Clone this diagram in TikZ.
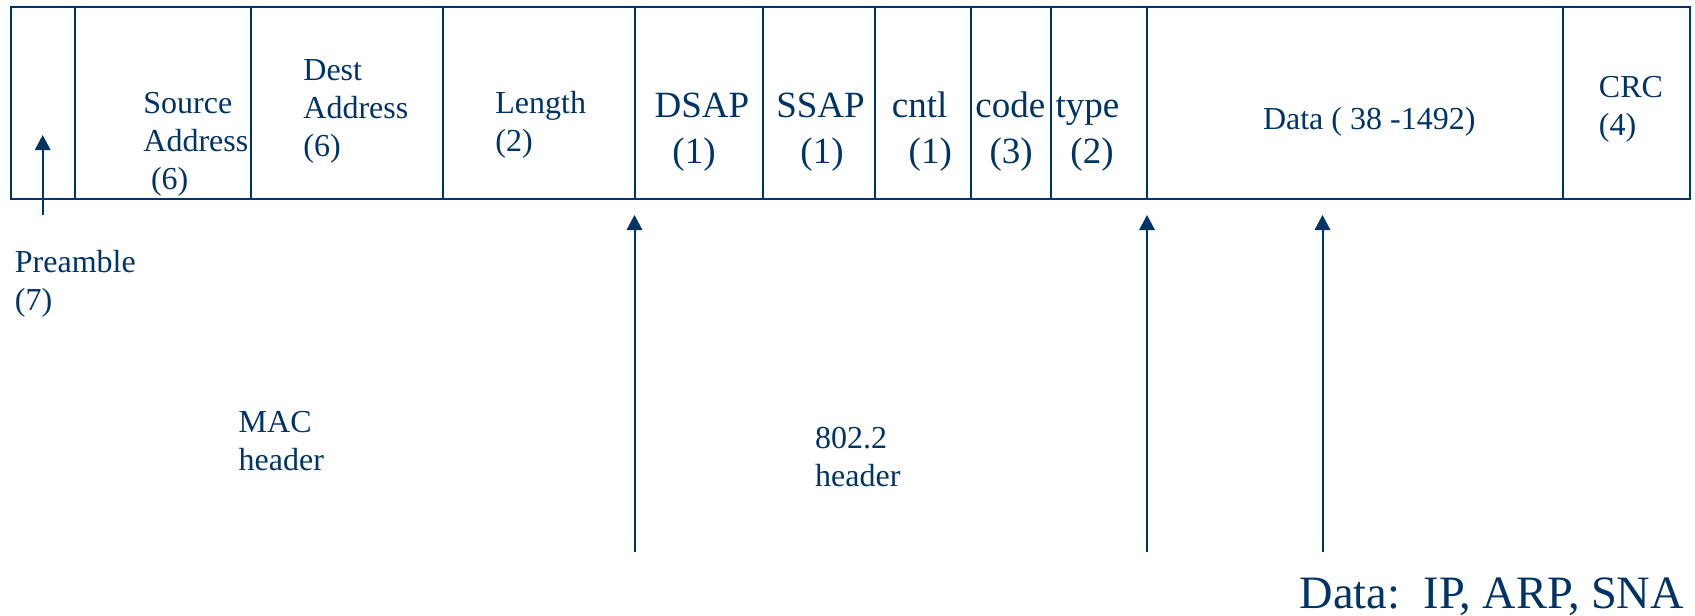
\documentclass[tikz,border=0pt]{standalone}
\usepackage{fontspec}
\setmainfont{Liberation Serif}
\usetikzlibrary{arrows.meta}
\definecolor{navy}{RGB}{0,51,102}
\tikzset{
  field/.style={draw=navy, line width=1pt, inner sep=0pt, minimum height=95.75pt},
  small/.style={text=navy, inner sep=0pt, align=left, anchor=base west,
    font=\fontsize{16pt}{19pt}\selectfont},
  big/.style={text=navy, inner sep=0pt, anchor=base,
    font=\fontsize{18.5pt}{23pt}\selectfont},
  huge/.style={text=navy, inner sep=0pt, anchor=base east,
    font=\fontsize{23.2pt}{27pt}\selectfont},
  ptr/.style={draw=navy, line width=1pt, -{Triangle[width=7.7pt,length=7.5pt]}},
}
\begin{document}
\begin{tikzpicture}[x=0.5pt,y=-0.5pt]
\useasboundingbox (0,0) rectangle (1695,615);
% frame fields
\node[field, minimum width=31.9pt]  (pre)  at (42.7,103.25) {};
\node[field, minimum width=88.15pt] (src)  at (162.75,103.25) {};
\node[field, minimum width=96.1pt]  (dst)  at (347,103.25) {};
\node[field, minimum width=95.7pt]  (len)  at (538.8,103.25) {};
\node[field, minimum width=64.25pt] (dsap) at (698.75,103.25) {};
\node[field, minimum width=55.75pt] (ssap) at (818.75,103.25) {};
\node[field, minimum width=48.05pt] (cntl) at (922.55,103.25) {};
\node[field, minimum width=40.05pt] (code) at (1010.65,103.25) {};
\node[field, minimum width=48.15pt] (type) at (1098.85,103.25) {};
\node[field, minimum width=207.9pt] (data) at (1354.9,103.25) {};
\node[field, minimum width=63.6pt]  (crc)  at (1626.4,103.25) {};
% field labels (multi-line nodes: base = last line)
\node[small] (tsrc) at (143,189.3) {Source\\Address\\\hspace*{3.8pt}(6)};
\node[small] (tdst) at (303,156.7) {Dest\\Address\\(6)};
\node[small] (tlen) at (495,151.7) {Length\\(2)};
\node[big] (tdsap1) at (702,117.3) {DSAP};
\node[big] (tdsap2) at (694,163.3) {(1)};
\node[big] (tssap1) at (820.5,117.3) {SSAP};
\node[big] (tssap2) at (822,163.3) {(1)};
\node[big] (tcntl1) at (919.7,117.3) {cntl};
\node[big] (tcntl2) at (930.3,163.3) {(1)};
\node[big] (tcode1) at (1010.4,117.3) {code};
\node[big] (tcode2) at (1011.1,163.3) {(3)};
\node[big] (ttype1) at (1087.5,117.3) {type};
\node[big] (ttype2) at (1092,163.3) {(2)};
\node[small] (tdata) at (1262.6,129) {Data ( 38 -1492)};
\node[small] (tcrc) at (1598.5,135) {CRC\\(4)};
% lower labels
\node[small] (tpre) at (14.5,310) {Preamble\\(7)};
\node[small] (tmac) at (238.3,470.7) {MAC\\header};
\node[small] (tllc) at (814.8,486) {802.2\\header};
\node[huge] (tpay) at (1684.4,608.3) {Data:\ \ IP, ARP, SNA};
% arrows
\coordinate (p0) at (42.7,215);
\coordinate (p1) at (42.7,135);
\coordinate (a0) at (634.5,552);
\coordinate (a1) at (634.5,215);
\coordinate (b0) at (1147,552);
\coordinate (b1) at (1147,215);
\coordinate (c0) at (1322.5,552);
\coordinate (c1) at (1322.5,215);
\draw[ptr] (p0) -- (p1);
\draw[ptr] (a0) -- (a1);
\draw[ptr] (b0) -- (b1);
\draw[ptr] (c0) -- (c1);
\end{tikzpicture}
\end{document}
